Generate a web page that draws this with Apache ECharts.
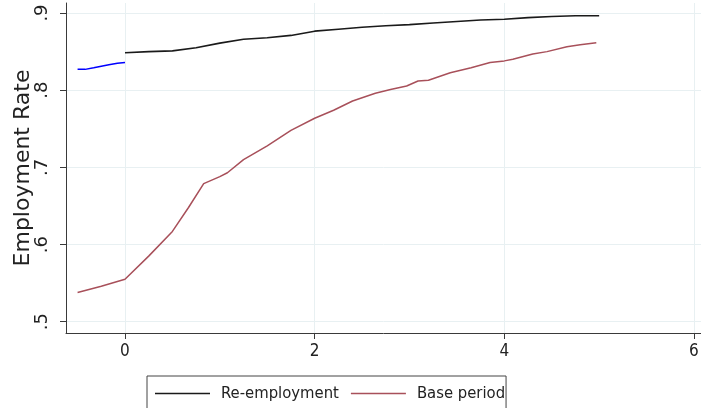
<!DOCTYPE html>
<html>
<head>
<meta charset="utf-8">
<script src="https://cdn.jsdelivr.net/npm/echarts@6/dist/echarts.min.js"></script>
<style>html,body{margin:0;padding:0;background:#fff;}#c{width:701px;height:408px;}</style>
</head>
<body>
<div id="c"></div>
<script>
// Pre-period (blue, unlabeled)
const blueX = [-0.5, -0.42, -0.33, -0.25, -0.17, -0.08, 0];
const blueY = [0.827, 0.827, 0.829, 0.831, 0.833, 0.835, 0.836];
// Re-employment
const reX = [0, 0.25, 0.5, 0.75, 1.0, 1.25, 1.5, 1.75, 2.0, 2.25, 2.5, 2.75, 3.0, 3.25, 3.5, 3.75, 4.0, 4.25, 4.5, 4.75, 5.0];
const reY = [0.8486, 0.850, 0.851, 0.855, 0.861, 0.866, 0.868, 0.871, 0.8765, 0.879, 0.8815, 0.8835, 0.885, 0.887, 0.889, 0.891, 0.892, 0.894, 0.8955, 0.8965, 0.8965];
// Base period
const baseX = [-0.5, -0.25, 0, 0.25, 0.5, 0.67, 0.83, 1.0, 1.08, 1.25, 1.5, 1.75, 2.0, 2.2, 2.4, 2.64, 2.8, 2.97, 3.09, 3.2, 3.43, 3.65, 3.85, 4.0, 4.09, 4.3, 4.45, 4.66, 4.8, 4.97];
const baseY = [0.538, 0.546, 0.555, 0.585, 0.617, 0.648, 0.679, 0.688, 0.693, 0.710, 0.728, 0.748, 0.7637, 0.774, 0.786, 0.796, 0.801, 0.8055, 0.812, 0.813, 0.8227, 0.829, 0.836, 0.838, 0.840, 0.847, 0.850, 0.8564, 0.859, 0.8616];
const xTicks = [0, 2, 4, 6];
const yTicks = [0.5, 0.6, 0.7, 0.8, 0.9];
const yTickLabels = ['.5', '.6', '.7', '.8', '.9'];

const zip = (xs, ys) => xs.map((x, i) => [x, ys[i]]);
const chart = echarts.init(document.getElementById('c'), null, {renderer: 'canvas'});
const gridColor = '#e8f0f2';
const axisColor = '#3a3a3a';
chart.setOption({
  animation: false,
  backgroundColor: '#ffffff',
  grid: {left: 66, right: 0, top: 3, bottom: 75, outerBoundsMode: 'none', containLabel: false},
  xAxis: {
    type: 'value', min: -0.622, max: 6.074,
    axisLine: {show: true, onZero: false, lineStyle: {color: axisColor, width: 1}},
    axisTick: {show: true, inside: false, length: 6, customValues: xTicks, lineStyle: {color: axisColor, width: 1}},
    axisLabel: {customValues: xTicks, color: '#222', fontFamily: 'DejaVu Sans Condensed', fontSize: 17, margin: 10},
    splitLine: {show: true, lineStyle: {color: gridColor, width: 1}}
  },
  yAxis: {
    type: 'value', min: 0.4854, max: 0.913,
    name: 'Employment Rate', nameLocation: 'middle', nameRotate: 90, nameGap: 32, nameMoveOverlap: false,
    nameTextStyle: {fontFamily: 'DejaVu Sans', fontSize: 22, color: '#222'},
    axisLine: {show: true, onZero: false, lineStyle: {color: axisColor, width: 1}},
    axisTick: {show: true, inside: false, length: 6, customValues: yTicks, lineStyle: {color: axisColor, width: 1}},
    axisLabel: {customValues: yTicks, rotate: 90, color: '#222', fontFamily: 'DejaVu Sans', fontSize: 18, margin: 15,
      formatter: v => { const i = yTicks.findIndex(t => Math.abs(t - v) < 1e-6); return i >= 0 ? yTickLabels[i] : ''; }},
    splitLine: {show: true, lineStyle: {color: gridColor, width: 1}}
  },
  legend: {
    data: ['Re-employment', 'Base period'],
    left: 147, top: 376,
    orient: 'horizontal',
    icon: 'rect', itemWidth: 55, itemHeight: 1.5, itemGap: 12,
    padding: [9, 1, 12, 8],
    borderColor: '#444', borderWidth: 1, borderRadius: 0,
    textStyle: {fontFamily: 'DejaVu Sans Condensed', fontSize: 16.5, color: '#222', padding: [0, 0, 0, 6]}
  },
  series: [
    {name: 'pre', type: 'line', data: zip(blueX, blueY), showSymbol: false, symbol: 'none',
      lineStyle: {color: '#0000ff', width: 1.5}, itemStyle: {color: '#0000ff'}},
    {name: 'Re-employment', type: 'line', data: zip(reX, reY), showSymbol: false, symbol: 'none',
      lineStyle: {color: '#1a1a1a', width: 1.6}, itemStyle: {color: '#1a1a1a'}},
    {name: 'Base period', type: 'line', data: zip(baseX, baseY), showSymbol: false, symbol: 'none',
      lineStyle: {color: '#a8505a', width: 1.5}, itemStyle: {color: '#a8505a'}}
  ]
});
</script>
</body>
</html>
